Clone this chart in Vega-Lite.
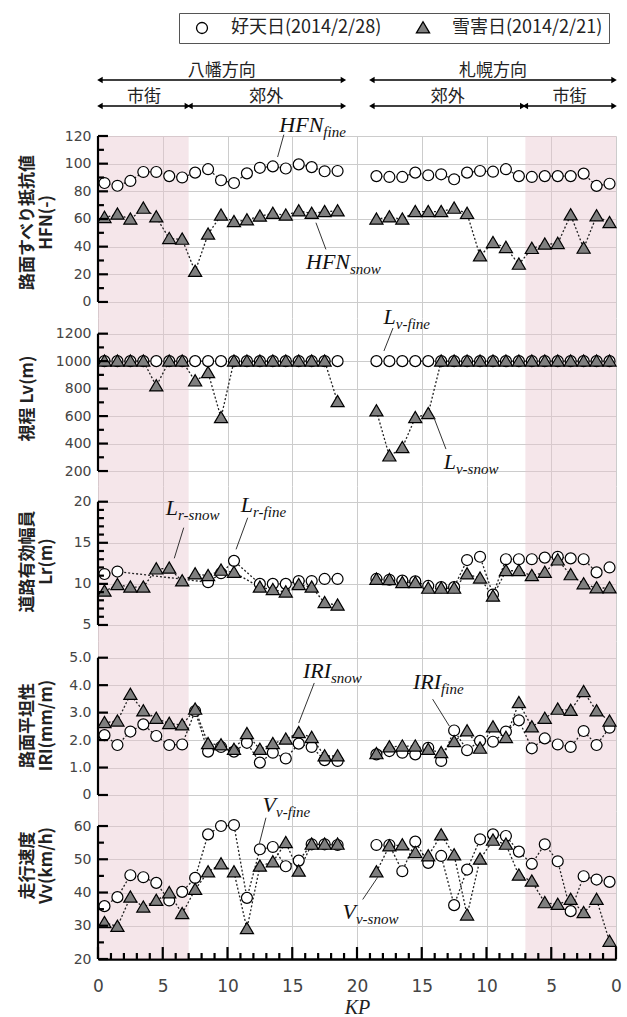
{
"$schema": "https://vega.github.io/schema/vega-lite/v6.json",
"padding": {"left": 18, "top": 12, "right": 4, "bottom": 4},
"spacing": 0,
"bounds": "flush",
"config": {
  "view": {"stroke": null},
  "axis": {"gridColor": "#cccccc", "gridWidth": 1, "labelFont": "DejaVu Sans", "labelFontSize": 14, "labelColor": "#444444", "titleFont": "Noto Sans CJK JP", "titleFontSize": 17, "titleFontWeight": "bold", "titleColor": "#222222", "titleLineHeight": 19, "labelOverlap": false, "labelFlush": false, "ticks": false}
},
"datasets": {
  "band": [{"p": 0, "p2": 7}, {"p": 33, "p2": 40}],
  "ha": [{"p":0.15,"p2":18.95,"y":29},{"p":21.15,"p2":39.85,"y":29},{"p":0.15,"p2":6.9,"y":55},{"p":7.1,"p2":18.95,"y":55},{"p":21.15,"p2":32.8,"y":55},{"p":33.0,"p2":39.85,"y":55}],
  "hd": [{"t":"八幡方向","p":9.55,"y":20},{"t":"札幌方向","p":30.5,"y":20},{"t":"市街","p":3.55,"y":46},{"t":"郊外","p":13.0,"y":46},{"t":"郊外","p":27.0,"y":46},{"t":"市街","p":36.4,"y":46}],
  "spine": [
    {"m":"H","k":"s","p":0,"p2":0,"v":0,"v2":120},{"m":"LV","k":"s","p":0,"p2":0,"v":200,"v2":1200},{"m":"LR","k":"s","p":0,"p2":0,"v":5,"v2":20},{"m":"IRI","k":"s","p":0,"p2":0,"v":0,"v2":5},{"m":"VV","k":"s","p":0,"p2":0,"v":20,"v2":60},
    {"m":"H","k":"t","p":0,"p2":0.77,"v":0,"v2":0},{"m":"H","k":"t","p":0,"p2":0.46,"v":10,"v2":10},{"m":"H","k":"t","p":0,"p2":0.77,"v":20,"v2":20},{"m":"H","k":"t","p":0,"p2":0.46,"v":30,"v2":30},{"m":"H","k":"t","p":0,"p2":0.77,"v":40,"v2":40},{"m":"H","k":"t","p":0,"p2":0.46,"v":50,"v2":50},{"m":"H","k":"t","p":0,"p2":0.77,"v":60,"v2":60},{"m":"H","k":"t","p":0,"p2":0.46,"v":70,"v2":70},{"m":"H","k":"t","p":0,"p2":0.77,"v":80,"v2":80},{"m":"H","k":"t","p":0,"p2":0.46,"v":90,"v2":90},{"m":"H","k":"t","p":0,"p2":0.77,"v":100,"v2":100},{"m":"H","k":"t","p":0,"p2":0.46,"v":110,"v2":110},{"m":"H","k":"t","p":0,"p2":0.77,"v":120,"v2":120},
    {"m":"LV","k":"t","p":0,"p2":0.77,"v":200,"v2":200},{"m":"LV","k":"t","p":0,"p2":0.46,"v":300,"v2":300},{"m":"LV","k":"t","p":0,"p2":0.77,"v":400,"v2":400},{"m":"LV","k":"t","p":0,"p2":0.46,"v":500,"v2":500},{"m":"LV","k":"t","p":0,"p2":0.77,"v":600,"v2":600},{"m":"LV","k":"t","p":0,"p2":0.46,"v":700,"v2":700},{"m":"LV","k":"t","p":0,"p2":0.77,"v":800,"v2":800},{"m":"LV","k":"t","p":0,"p2":0.46,"v":900,"v2":900},{"m":"LV","k":"t","p":0,"p2":0.77,"v":1000,"v2":1000},{"m":"LV","k":"t","p":0,"p2":0.46,"v":1100,"v2":1100},{"m":"LV","k":"t","p":0,"p2":0.77,"v":1200,"v2":1200},
    {"m":"LR","k":"t","p":0,"p2":0.77,"v":5,"v2":5},{"m":"LR","k":"t","p":0,"p2":0.46,"v":6,"v2":6},{"m":"LR","k":"t","p":0,"p2":0.46,"v":7,"v2":7},{"m":"LR","k":"t","p":0,"p2":0.46,"v":8,"v2":8},{"m":"LR","k":"t","p":0,"p2":0.46,"v":9,"v2":9},{"m":"LR","k":"t","p":0,"p2":0.77,"v":10,"v2":10},{"m":"LR","k":"t","p":0,"p2":0.46,"v":11,"v2":11},{"m":"LR","k":"t","p":0,"p2":0.46,"v":12,"v2":12},{"m":"LR","k":"t","p":0,"p2":0.46,"v":13,"v2":13},{"m":"LR","k":"t","p":0,"p2":0.46,"v":14,"v2":14},{"m":"LR","k":"t","p":0,"p2":0.77,"v":15,"v2":15},{"m":"LR","k":"t","p":0,"p2":0.46,"v":16,"v2":16},{"m":"LR","k":"t","p":0,"p2":0.46,"v":17,"v2":17},{"m":"LR","k":"t","p":0,"p2":0.46,"v":18,"v2":18},{"m":"LR","k":"t","p":0,"p2":0.46,"v":19,"v2":19},{"m":"LR","k":"t","p":0,"p2":0.77,"v":20,"v2":20},
    {"m":"IRI","k":"t","p":0,"p2":0.77,"v":0,"v2":0},{"m":"IRI","k":"t","p":0,"p2":0.77,"v":1,"v2":1},{"m":"IRI","k":"t","p":0,"p2":0.77,"v":2,"v2":2},{"m":"IRI","k":"t","p":0,"p2":0.77,"v":3,"v2":3},{"m":"IRI","k":"t","p":0,"p2":0.77,"v":4,"v2":4},{"m":"IRI","k":"t","p":0,"p2":0.77,"v":5,"v2":5},
    {"m":"VV","k":"t","p":0,"p2":0.77,"v":20,"v2":20},{"m":"VV","k":"t","p":0,"p2":0.46,"v":25,"v2":25},{"m":"VV","k":"t","p":0,"p2":0.77,"v":30,"v2":30},{"m":"VV","k":"t","p":0,"p2":0.46,"v":35,"v2":35},{"m":"VV","k":"t","p":0,"p2":0.77,"v":40,"v2":40},{"m":"VV","k":"t","p":0,"p2":0.46,"v":45,"v2":45},{"m":"VV","k":"t","p":0,"p2":0.77,"v":50,"v2":50},{"m":"VV","k":"t","p":0,"p2":0.46,"v":55,"v2":55},{"m":"VV","k":"t","p":0,"p2":0.77,"v":60,"v2":60},
    {"m":"VV","k":"x","p":0,"p2":0,"v":20,"v2":23.6},{"m":"VV","k":"x","p":1,"p2":1,"v":20,"v2":21.8},{"m":"VV","k":"x","p":2,"p2":2,"v":20,"v2":21.8},{"m":"VV","k":"x","p":3,"p2":3,"v":20,"v2":21.8},{"m":"VV","k":"x","p":4,"p2":4,"v":20,"v2":21.8},{"m":"VV","k":"x","p":5,"p2":5,"v":20,"v2":23.6},{"m":"VV","k":"x","p":6,"p2":6,"v":20,"v2":21.8},{"m":"VV","k":"x","p":7,"p2":7,"v":20,"v2":21.8},{"m":"VV","k":"x","p":8,"p2":8,"v":20,"v2":21.8},{"m":"VV","k":"x","p":9,"p2":9,"v":20,"v2":21.8},{"m":"VV","k":"x","p":10,"p2":10,"v":20,"v2":23.6},{"m":"VV","k":"x","p":11,"p2":11,"v":20,"v2":21.8},{"m":"VV","k":"x","p":12,"p2":12,"v":20,"v2":21.8},{"m":"VV","k":"x","p":13,"p2":13,"v":20,"v2":21.8},{"m":"VV","k":"x","p":14,"p2":14,"v":20,"v2":21.8},{"m":"VV","k":"x","p":15,"p2":15,"v":20,"v2":23.6},{"m":"VV","k":"x","p":16,"p2":16,"v":20,"v2":21.8},{"m":"VV","k":"x","p":17,"p2":17,"v":20,"v2":21.8},{"m":"VV","k":"x","p":18,"p2":18,"v":20,"v2":21.8},{"m":"VV","k":"x","p":19,"p2":19,"v":20,"v2":21.8},{"m":"VV","k":"x","p":20,"p2":20,"v":20,"v2":23.6},{"m":"VV","k":"x","p":21,"p2":21,"v":20,"v2":21.8},{"m":"VV","k":"x","p":22,"p2":22,"v":20,"v2":21.8},{"m":"VV","k":"x","p":23,"p2":23,"v":20,"v2":21.8},{"m":"VV","k":"x","p":24,"p2":24,"v":20,"v2":21.8},{"m":"VV","k":"x","p":25,"p2":25,"v":20,"v2":23.6},{"m":"VV","k":"x","p":26,"p2":26,"v":20,"v2":21.8},{"m":"VV","k":"x","p":27,"p2":27,"v":20,"v2":21.8},{"m":"VV","k":"x","p":28,"p2":28,"v":20,"v2":21.8},{"m":"VV","k":"x","p":29,"p2":29,"v":20,"v2":21.8},{"m":"VV","k":"x","p":30,"p2":30,"v":20,"v2":23.6},{"m":"VV","k":"x","p":31,"p2":31,"v":20,"v2":21.8},{"m":"VV","k":"x","p":32,"p2":32,"v":20,"v2":21.8},{"m":"VV","k":"x","p":33,"p2":33,"v":20,"v2":21.8},{"m":"VV","k":"x","p":34,"p2":34,"v":20,"v2":21.8},{"m":"VV","k":"x","p":35,"p2":35,"v":20,"v2":23.6},{"m":"VV","k":"x","p":36,"p2":36,"v":20,"v2":21.8},{"m":"VV","k":"x","p":37,"p2":37,"v":20,"v2":21.8},{"m":"VV","k":"x","p":38,"p2":38,"v":20,"v2":21.8},{"m":"VV","k":"x","p":39,"p2":39,"v":20,"v2":21.8},{"m":"VV","k":"x","p":40,"p2":40,"v":20,"v2":23.6}
  ],
  "ann": [
    {"m":"H","t":"HFN","u":"fine","p":17.4,"v":122.9},
    {"m":"H","t":"HFN","u":"snow","p":19.46,"v":24},
    {"m":"LV","t":"L","u":"v-fine","p":23.0,"v":1271},
    {"m":"LV","t":"L","u":"v-snow","p":27.64,"v":215},
    {"m":"LR","t":"L","u":"r-snow","p":6.18,"v":18.4},
    {"m":"LR","t":"L","u":"r-fine","p":11.97,"v":18.7},
    {"m":"IRI","t":"IRI","u":"snow","p":17.99,"v":4.25},
    {"m":"IRI","t":"IRI","u":"fine","p":26.49,"v":3.85},
    {"m":"VV","t":"V","u":"v-fine","p":13.75,"v":64.3},
    {"m":"VV","t":"V","u":"v-snow","p":19.92,"v":32}
  ],
  "arr": [
    {"m":"H","p":14.35,"v":121,"p2":13.87,"v2":104.8},
    {"m":"H","p":17.6,"v":38,"p2":16.83,"v2":57.3},
    {"m":"LV","p":22.78,"v":1241,"p2":22.08,"v2":1074},
    {"m":"LV","p":26.87,"v":360,"p2":25.95,"v2":586},
    {"m":"LR","p":6.62,"v":16.84,"p2":5.89,"v2":13.11},
    {"m":"LR","p":11.56,"v":18.05,"p2":10.66,"v2":14.2},
    {"m":"IRI","p":16.7,"v":4.08,"p2":15.5,"v2":2.62},
    {"m":"IRI","p":25.84,"v":3.49,"p2":27.13,"v2":2.51},
    {"m":"VV","p":12.97,"v":62.5,"p2":12.46,"v2":54.7},
    {"m":"VV","p":20.44,"v":37.9,"p2":21.6,"v2":44.6}
  ],
  "H": [
    {"c":"f","s":"L","p":0.5,"v":86},{"c":"f","s":"L","p":1.5,"v":84},{"c":"f","s":"L","p":2.5,"v":87.5},{"c":"f","s":"L","p":3.5,"v":94},{"c":"f","s":"L","p":4.5,"v":94},{"c":"f","s":"L","p":5.5,"v":91},{"c":"f","s":"L","p":6.5,"v":90},{"c":"f","s":"L","p":7.5,"v":93.5},{"c":"f","s":"L","p":8.5,"v":96},{"c":"f","s":"L","p":9.5,"v":88},{"c":"f","s":"L","p":10.5,"v":86},{"c":"f","s":"L","p":11.5,"v":93},{"c":"f","s":"L","p":12.5,"v":97},{"c":"f","s":"L","p":13.5,"v":98},{"c":"f","s":"L","p":14.5,"v":96.5},{"c":"f","s":"L","p":15.5,"v":99.5},{"c":"f","s":"L","p":16.5,"v":97.5},{"c":"f","s":"L","p":17.5,"v":94.5},{"c":"f","s":"L","p":18.5,"v":94.7},
    {"c":"f","s":"R","p":21.5,"v":91},{"c":"f","s":"R","p":22.5,"v":90.4},{"c":"f","s":"R","p":23.5,"v":90.4},{"c":"f","s":"R","p":24.5,"v":93.5},{"c":"f","s":"R","p":25.5,"v":91.6},{"c":"f","s":"R","p":26.5,"v":92.3},{"c":"f","s":"R","p":27.5,"v":88.7},{"c":"f","s":"R","p":28.5,"v":93.5},{"c":"f","s":"R","p":29.5,"v":94.7},{"c":"f","s":"R","p":30.5,"v":94.2},{"c":"f","s":"R","p":31.5,"v":96},{"c":"f","s":"R","p":32.5,"v":91},{"c":"f","s":"R","p":33.5,"v":90.4},{"c":"f","s":"R","p":34.5,"v":91},{"c":"f","s":"R","p":35.5,"v":91},{"c":"f","s":"R","p":36.5,"v":91},{"c":"f","s":"R","p":37.5,"v":92.8},{"c":"f","s":"R","p":38.5,"v":83.9},{"c":"f","s":"R","p":39.5,"v":85.5},
    {"c":"s","s":"L","p":0.5,"v":61},{"c":"s","s":"L","p":1.5,"v":63.4},{"c":"s","s":"L","p":2.5,"v":59.8},{"c":"s","s":"L","p":3.5,"v":67.7},{"c":"s","s":"L","p":4.5,"v":61.4},{"c":"s","s":"L","p":5.5,"v":45.8},{"c":"s","s":"L","p":6.5,"v":45.3},{"c":"s","s":"L","p":7.5,"v":22},{"c":"s","s":"L","p":8.5,"v":49},{"c":"s","s":"L","p":9.5,"v":62.7},{"c":"s","s":"L","p":10.5,"v":58},{"c":"s","s":"L","p":11.5,"v":59.3},{"c":"s","s":"L","p":12.5,"v":62},{"c":"s","s":"L","p":13.5,"v":64},{"c":"s","s":"L","p":14.5,"v":62.7},{"c":"s","s":"L","p":15.5,"v":65.8},{"c":"s","s":"L","p":16.5,"v":64},{"c":"s","s":"L","p":17.5,"v":65.3},{"c":"s","s":"L","p":18.5,"v":65.8},
    {"c":"s","s":"R","p":21.5,"v":59.8},{"c":"s","s":"R","p":22.5,"v":61.4},{"c":"s","s":"R","p":23.5,"v":59.8},{"c":"s","s":"R","p":24.5,"v":65.3},{"c":"s","s":"R","p":25.5,"v":65.3},{"c":"s","s":"R","p":26.5,"v":65.3},{"c":"s","s":"R","p":27.5,"v":67.7},{"c":"s","s":"R","p":28.5,"v":63.9},{"c":"s","s":"R","p":29.5,"v":33.3},{"c":"s","s":"R","p":30.5,"v":42.9},{"c":"s","s":"R","p":31.5,"v":39.3},{"c":"s","s":"R","p":32.5,"v":27.2},{"c":"s","s":"R","p":33.5,"v":38.6},{"c":"s","s":"R","p":34.5,"v":41.7},{"c":"s","s":"R","p":35.5,"v":42.2},{"c":"s","s":"R","p":36.5,"v":62.9},{"c":"s","s":"R","p":37.5,"v":38.8},{"c":"s","s":"R","p":38.5,"v":62.2},{"c":"s","s":"R","p":39.5,"v":57.3}
  ],
  "LV": [
    {"c":"f","s":"L","p":0.5,"v":1000},{"c":"f","s":"L","p":1.5,"v":1000},{"c":"f","s":"L","p":2.5,"v":1000},{"c":"f","s":"L","p":3.5,"v":1000},{"c":"f","s":"L","p":4.5,"v":1000},{"c":"f","s":"L","p":5.5,"v":1000},{"c":"f","s":"L","p":6.5,"v":1000},{"c":"f","s":"L","p":7.5,"v":1000},{"c":"f","s":"L","p":8.5,"v":1000},{"c":"f","s":"L","p":9.5,"v":1000},{"c":"f","s":"L","p":10.5,"v":1000},{"c":"f","s":"L","p":11.5,"v":1000},{"c":"f","s":"L","p":12.5,"v":1000},{"c":"f","s":"L","p":13.5,"v":1000},{"c":"f","s":"L","p":14.5,"v":1000},{"c":"f","s":"L","p":15.5,"v":1000},{"c":"f","s":"L","p":16.5,"v":1000},{"c":"f","s":"L","p":17.5,"v":1000},{"c":"f","s":"L","p":18.5,"v":1000},
    {"c":"f","s":"R","p":21.5,"v":1000},{"c":"f","s":"R","p":22.5,"v":1000},{"c":"f","s":"R","p":23.5,"v":1000},{"c":"f","s":"R","p":24.5,"v":1000},{"c":"f","s":"R","p":25.5,"v":1000},{"c":"f","s":"R","p":26.5,"v":1000},{"c":"f","s":"R","p":27.5,"v":1000},{"c":"f","s":"R","p":28.5,"v":1000},{"c":"f","s":"R","p":29.5,"v":1000},{"c":"f","s":"R","p":30.5,"v":1000},{"c":"f","s":"R","p":31.5,"v":1000},{"c":"f","s":"R","p":32.5,"v":1000},{"c":"f","s":"R","p":33.5,"v":1000},{"c":"f","s":"R","p":34.5,"v":1000},{"c":"f","s":"R","p":35.5,"v":1000},{"c":"f","s":"R","p":36.5,"v":1000},{"c":"f","s":"R","p":37.5,"v":1000},{"c":"f","s":"R","p":38.5,"v":1000},{"c":"f","s":"R","p":39.5,"v":1000},
    {"c":"s","s":"L","p":0.5,"v":1000},{"c":"s","s":"L","p":1.5,"v":1000},{"c":"s","s":"L","p":2.5,"v":1000},{"c":"s","s":"L","p":3.5,"v":1000},{"c":"s","s":"L","p":4.5,"v":819},{"c":"s","s":"L","p":5.5,"v":1000},{"c":"s","s":"L","p":6.5,"v":1000},{"c":"s","s":"L","p":7.5,"v":855},{"c":"s","s":"L","p":8.5,"v":916},{"c":"s","s":"L","p":9.5,"v":588},{"c":"s","s":"L","p":10.5,"v":1000},{"c":"s","s":"L","p":11.5,"v":1000},{"c":"s","s":"L","p":12.5,"v":1000},{"c":"s","s":"L","p":13.5,"v":1000},{"c":"s","s":"L","p":14.5,"v":1000},{"c":"s","s":"L","p":15.5,"v":1000},{"c":"s","s":"L","p":16.5,"v":1000},{"c":"s","s":"L","p":17.5,"v":1000},{"c":"s","s":"L","p":18.5,"v":704},
    {"c":"s","s":"R","p":21.5,"v":637},{"c":"s","s":"R","p":22.5,"v":309},{"c":"s","s":"R","p":23.5,"v":370},{"c":"s","s":"R","p":24.5,"v":588},{"c":"s","s":"R","p":25.5,"v":617},{"c":"s","s":"R","p":26.5,"v":1000},{"c":"s","s":"R","p":27.5,"v":1000},{"c":"s","s":"R","p":28.5,"v":1000},{"c":"s","s":"R","p":29.5,"v":1000},{"c":"s","s":"R","p":30.5,"v":1000},{"c":"s","s":"R","p":31.5,"v":1000},{"c":"s","s":"R","p":32.5,"v":1000},{"c":"s","s":"R","p":33.5,"v":1000},{"c":"s","s":"R","p":34.5,"v":1000},{"c":"s","s":"R","p":35.5,"v":1000},{"c":"s","s":"R","p":36.5,"v":1000},{"c":"s","s":"R","p":37.5,"v":1000},{"c":"s","s":"R","p":38.5,"v":1000},{"c":"s","s":"R","p":39.5,"v":1000}
  ],
  "LR": [
    {"c":"f","s":"L","p":0.5,"v":11.2},{"c":"f","s":"L","p":1.5,"v":11.5},{"c":"f","s":"L","p":8.5,"v":10.2},{"c":"f","s":"L","p":9.5,"v":11.3},{"c":"f","s":"L","p":10.5,"v":12.8},{"c":"f","s":"L","p":12.5,"v":10.0},{"c":"f","s":"L","p":13.5,"v":10.0},{"c":"f","s":"L","p":14.5,"v":10.0},{"c":"f","s":"L","p":15.5,"v":10.35},{"c":"f","s":"L","p":16.5,"v":10.35},{"c":"f","s":"L","p":17.5,"v":10.6},{"c":"f","s":"L","p":18.5,"v":10.6},
    {"c":"f","s":"R","p":21.5,"v":10.6},{"c":"f","s":"R","p":22.5,"v":10.5},{"c":"f","s":"R","p":23.5,"v":10.4},{"c":"f","s":"R","p":24.5,"v":10.3},{"c":"f","s":"R","p":25.5,"v":9.75},{"c":"f","s":"R","p":26.5,"v":9.6},{"c":"f","s":"R","p":27.5,"v":9.6},{"c":"f","s":"R","p":28.5,"v":12.9},{"c":"f","s":"R","p":29.5,"v":13.3},{"c":"f","s":"R","p":30.5,"v":8.7},{"c":"f","s":"R","p":31.5,"v":13.0},{"c":"f","s":"R","p":32.5,"v":13.0},{"c":"f","s":"R","p":33.5,"v":13.0},{"c":"f","s":"R","p":34.5,"v":13.2},{"c":"f","s":"R","p":35.5,"v":13.3},{"c":"f","s":"R","p":36.5,"v":13.1},{"c":"f","s":"R","p":37.5,"v":13.0},{"c":"f","s":"R","p":38.5,"v":11.4},{"c":"f","s":"R","p":39.5,"v":12.0},
    {"c":"s","s":"L","p":0.5,"v":9.1},{"c":"s","s":"L","p":1.5,"v":9.9},{"c":"s","s":"L","p":2.5,"v":9.6},{"c":"s","s":"L","p":3.5,"v":9.6},{"c":"s","s":"L","p":4.5,"v":11.8},{"c":"s","s":"L","p":5.5,"v":11.9},{"c":"s","s":"L","p":6.5,"v":10.35},{"c":"s","s":"L","p":7.5,"v":11.2},{"c":"s","s":"L","p":8.5,"v":11.0},{"c":"s","s":"L","p":9.5,"v":11.65},{"c":"s","s":"L","p":10.5,"v":11.4},{"c":"s","s":"L","p":12.5,"v":9.6},{"c":"s","s":"L","p":13.5,"v":9.3},{"c":"s","s":"L","p":14.5,"v":9.0},{"c":"s","s":"L","p":15.5,"v":9.9},{"c":"s","s":"L","p":16.5,"v":9.6},{"c":"s","s":"L","p":17.5,"v":7.7},{"c":"s","s":"L","p":18.5,"v":7.4},
    {"c":"s","s":"R","p":21.5,"v":10.55},{"c":"s","s":"R","p":22.5,"v":10.5},{"c":"s","s":"R","p":23.5,"v":10.15},{"c":"s","s":"R","p":24.5,"v":10.15},{"c":"s","s":"R","p":25.5,"v":9.46},{"c":"s","s":"R","p":26.5,"v":9.46},{"c":"s","s":"R","p":27.5,"v":9.46},{"c":"s","s":"R","p":28.5,"v":11.2},{"c":"s","s":"R","p":29.5,"v":10.7},{"c":"s","s":"R","p":30.5,"v":8.5},{"c":"s","s":"R","p":31.5,"v":11.6},{"c":"s","s":"R","p":32.5,"v":11.6},{"c":"s","s":"R","p":33.5,"v":11.0},{"c":"s","s":"R","p":34.5,"v":11.4},{"c":"s","s":"R","p":35.5,"v":12.9},{"c":"s","s":"R","p":36.5,"v":11.1},{"c":"s","s":"R","p":37.5,"v":10.0},{"c":"s","s":"R","p":38.5,"v":9.5},{"c":"s","s":"R","p":39.5,"v":9.5}
  ],
  "IRI": [
    {"c":"f","s":"L","p":0.5,"v":2.18},{"c":"f","s":"L","p":1.5,"v":1.82},{"c":"f","s":"L","p":2.5,"v":2.31},{"c":"f","s":"L","p":3.5,"v":2.57},{"c":"f","s":"L","p":4.5,"v":2.15},{"c":"f","s":"L","p":5.5,"v":1.82},{"c":"f","s":"L","p":6.5,"v":1.84},{"c":"f","s":"L","p":7.5,"v":3.06},{"c":"f","s":"L","p":8.5,"v":1.58},{"c":"f","s":"L","p":9.5,"v":1.75},{"c":"f","s":"L","p":10.5,"v":1.58},{"c":"f","s":"L","p":11.5,"v":1.9},{"c":"f","s":"L","p":12.5,"v":1.18},{"c":"f","s":"L","p":13.5,"v":1.54},{"c":"f","s":"L","p":14.5,"v":1.33},{"c":"f","s":"L","p":15.5,"v":1.87},{"c":"f","s":"L","p":16.5,"v":1.75},{"c":"f","s":"L","p":17.5,"v":1.27},{"c":"f","s":"L","p":18.5,"v":1.24},
    {"c":"f","s":"R","p":21.5,"v":1.48},{"c":"f","s":"R","p":22.5,"v":1.6},{"c":"f","s":"R","p":23.5,"v":1.54},{"c":"f","s":"R","p":24.5,"v":1.48},{"c":"f","s":"R","p":25.5,"v":1.72},{"c":"f","s":"R","p":26.5,"v":1.24},{"c":"f","s":"R","p":27.5,"v":2.35},{"c":"f","s":"R","p":28.5,"v":1.63},{"c":"f","s":"R","p":29.5,"v":1.97},{"c":"f","s":"R","p":30.5,"v":1.94},{"c":"f","s":"R","p":31.5,"v":2.31},{"c":"f","s":"R","p":32.5,"v":2.72},{"c":"f","s":"R","p":33.5,"v":1.7},{"c":"f","s":"R","p":34.5,"v":2.06},{"c":"f","s":"R","p":35.5,"v":1.84},{"c":"f","s":"R","p":36.5,"v":1.75},{"c":"f","s":"R","p":37.5,"v":2.33},{"c":"f","s":"R","p":38.5,"v":1.82},{"c":"f","s":"R","p":39.5,"v":2.45},
    {"c":"s","s":"L","p":0.5,"v":2.63},{"c":"s","s":"L","p":1.5,"v":2.69},{"c":"s","s":"L","p":2.5,"v":3.66},{"c":"s","s":"L","p":3.5,"v":3.06},{"c":"s","s":"L","p":4.5,"v":2.79},{"c":"s","s":"L","p":5.5,"v":2.6},{"c":"s","s":"L","p":6.5,"v":2.55},{"c":"s","s":"L","p":7.5,"v":3.12},{"c":"s","s":"L","p":8.5,"v":1.87},{"c":"s","s":"L","p":9.5,"v":1.82},{"c":"s","s":"L","p":10.5,"v":1.66},{"c":"s","s":"L","p":11.5,"v":2.23},{"c":"s","s":"L","p":12.5,"v":1.66},{"c":"s","s":"L","p":13.5,"v":1.87},{"c":"s","s":"L","p":14.5,"v":2.03},{"c":"s","s":"L","p":15.5,"v":2.27},{"c":"s","s":"L","p":16.5,"v":2.09},{"c":"s","s":"L","p":17.5,"v":1.42},{"c":"s","s":"L","p":18.5,"v":1.42},
    {"c":"s","s":"R","p":21.5,"v":1.5},{"c":"s","s":"R","p":22.5,"v":1.75},{"c":"s","s":"R","p":23.5,"v":1.78},{"c":"s","s":"R","p":24.5,"v":1.78},{"c":"s","s":"R","p":25.5,"v":1.66},{"c":"s","s":"R","p":26.5,"v":1.54},{"c":"s","s":"R","p":27.5,"v":1.94},{"c":"s","s":"R","p":28.5,"v":2.33},{"c":"s","s":"R","p":29.5,"v":1.7},{"c":"s","s":"R","p":30.5,"v":2.48},{"c":"s","s":"R","p":31.5,"v":2.09},{"c":"s","s":"R","p":32.5,"v":3.36},{"c":"s","s":"R","p":33.5,"v":2.48},{"c":"s","s":"R","p":34.5,"v":2.79},{"c":"s","s":"R","p":35.5,"v":3.12},{"c":"s","s":"R","p":36.5,"v":3.08},{"c":"s","s":"R","p":37.5,"v":3.76},{"c":"s","s":"R","p":38.5,"v":3.06},{"c":"s","s":"R","p":39.5,"v":2.69}
  ],
  "VV": [
    {"c":"f","s":"L","p":0.5,"v":35.9},{"c":"f","s":"L","p":1.5,"v":38.6},{"c":"f","s":"L","p":2.5,"v":45.2},{"c":"f","s":"L","p":3.5,"v":44.6},{"c":"f","s":"L","p":4.5,"v":42.9},{"c":"f","s":"L","p":5.5,"v":37.6},{"c":"f","s":"L","p":6.5,"v":40.2},{"c":"f","s":"L","p":7.5,"v":44.4},{"c":"f","s":"L","p":8.5,"v":57.5},{"c":"f","s":"L","p":9.5,"v":60},{"c":"f","s":"L","p":10.5,"v":60.3},{"c":"f","s":"L","p":11.5,"v":38.4},{"c":"f","s":"L","p":12.5,"v":53},{"c":"f","s":"L","p":13.5,"v":53.7},{"c":"f","s":"L","p":14.5,"v":47.9},{"c":"f","s":"L","p":15.5,"v":49.6},{"c":"f","s":"L","p":16.5,"v":54.5},{"c":"f","s":"L","p":17.5,"v":54.5},{"c":"f","s":"L","p":18.5,"v":54.3},
    {"c":"f","s":"R","p":21.5,"v":54.3},{"c":"f","s":"R","p":22.5,"v":54.3},{"c":"f","s":"R","p":23.5,"v":46.4},{"c":"f","s":"R","p":24.5,"v":55.3},{"c":"f","s":"R","p":25.5,"v":48.9},{"c":"f","s":"R","p":26.5,"v":51},{"c":"f","s":"R","p":27.5,"v":36.2},{"c":"f","s":"R","p":28.5,"v":46.9},{"c":"f","s":"R","p":29.5,"v":56},{"c":"f","s":"R","p":30.5,"v":57.5},{"c":"f","s":"R","p":31.5,"v":57},{"c":"f","s":"R","p":32.5,"v":52.3},{"c":"f","s":"R","p":33.5,"v":48.6},{"c":"f","s":"R","p":34.5,"v":54.5},{"c":"f","s":"R","p":35.5,"v":49.4},{"c":"f","s":"R","p":36.5,"v":34.4},{"c":"f","s":"R","p":37.5,"v":44.9},{"c":"f","s":"R","p":38.5,"v":43.9},{"c":"f","s":"R","p":39.5,"v":43.2},
    {"c":"s","s":"L","p":0.5,"v":30.9},{"c":"s","s":"L","p":1.5,"v":29.8},{"c":"s","s":"L","p":2.5,"v":38.6},{"c":"s","s":"L","p":3.5,"v":35.6},{"c":"s","s":"L","p":4.5,"v":37.6},{"c":"s","s":"L","p":5.5,"v":39.9},{"c":"s","s":"L","p":6.5,"v":33.6},{"c":"s","s":"L","p":7.5,"v":40.9},{"c":"s","s":"L","p":8.5,"v":46.2},{"c":"s","s":"L","p":9.5,"v":48.6},{"c":"s","s":"L","p":10.5,"v":46.2},{"c":"s","s":"L","p":11.5,"v":29.1},{"c":"s","s":"L","p":12.5,"v":47.9},{"c":"s","s":"L","p":13.5,"v":49.2},{"c":"s","s":"L","p":14.5,"v":55},{"c":"s","s":"L","p":15.5,"v":46.4},{"c":"s","s":"L","p":16.5,"v":54.5},{"c":"s","s":"L","p":17.5,"v":54.5},{"c":"s","s":"L","p":18.5,"v":54.5},
    {"c":"s","s":"R","p":21.5,"v":46.2},{"c":"s","s":"R","p":22.5,"v":54},{"c":"s","s":"R","p":23.5,"v":54.3},{"c":"s","s":"R","p":24.5,"v":52},{"c":"s","s":"R","p":25.5,"v":51},{"c":"s","s":"R","p":26.5,"v":57.3},{"c":"s","s":"R","p":27.5,"v":51.3},{"c":"s","s":"R","p":28.5,"v":33.2},{"c":"s","s":"R","p":29.5,"v":50},{"c":"s","s":"R","p":30.5,"v":55.7},{"c":"s","s":"R","p":31.5,"v":54.5},{"c":"s","s":"R","p":32.5,"v":45.2},{"c":"s","s":"R","p":33.5,"v":43.4},{"c":"s","s":"R","p":34.5,"v":36.9},{"c":"s","s":"R","p":35.5,"v":36.4},{"c":"s","s":"R","p":36.5,"v":37.9},{"c":"s","s":"R","p":37.5,"v":33.9},{"c":"s","s":"R","p":38.5,"v":37.9},{"c":"s","s":"R","p":39.5,"v":25.3}
  ]
},
"vconcat": [
  {
    "width": 518, "height": 85,
    "encoding": {"x": {"field": "p", "type": "quantitative", "scale": {"domain": [0, 40], "nice": false, "zero": false}, "axis": null},
                 "y": {"field": "y", "type": "quantitative", "scale": {"domain": [0, 85], "reverse": true, "nice": false, "zero": false}, "axis": null}},
    "layer": [
      {"data": {"name": "ha"}, "mark": {"type": "rule", "color": "black", "strokeWidth": 1.5}, "encoding": {"x2": {"field": "p2"}}},
      {"data": {"name": "ha"}, "mark": {"type": "point", "shape": "triangle-left", "filled": true, "color": "black", "size": 40, "opacity": 1}},
      {"data": {"name": "ha"}, "mark": {"type": "point", "shape": "triangle-right", "filled": true, "color": "black", "size": 40, "opacity": 1}, "encoding": {"x": {"field": "p2", "type": "quantitative", "scale": {"domain": [0, 40], "nice": false, "zero": false}, "axis": null}}},
      {"data": {"name": "hd"}, "mark": {"type": "text", "font": "Noto Sans CJK JP", "fontSize": 17, "color": "#222222"}, "encoding": {"text": {"field": "t"}}}
    ]
  },
  {
    "width": 518, "height": 182,
    "encoding": {"x": {"field": "p", "type": "quantitative", "scale": {"domain": [0, 40], "nice": false, "zero": false}, "axis": {"values": [0,5,10,15,20,25,30,35,40], "grid": true, "domain": false, "labels": false, "title": null}}},
    "layer": [
      {"data": {"name": "band"}, "mark": {"type": "rect", "color": "#e8c4ce", "opacity": 0.43}, "encoding": {"x2": {"field": "p2"}}},
      {"encoding": {"y": {"field": "v", "type": "quantitative", "scale": {"domain": [-11.6, 120], "nice": false, "zero": false},
          "axis": {"values": [0,20,40,60,80,100,120], "grid": true, "domain": false, "labelPadding": 7, "title": ["路面すべり抵抗値", "HFN(-)"], "titleX": -79, "titleY": 86, "titleBaseline": "top", "titleAngle": 270}}},
       "layer": [
         {"data": {"name": "H"}, "mark": {"type": "line", "strokeDash": [2, 2], "color": "#222222", "strokeWidth": 1.3}, "encoding": {"detail": [{"field": "c"}, {"field": "s"}]}},
         {"data": {"name": "H"}, "mark": {"type": "point", "filled": true, "strokeWidth": 1.2, "size": 120, "opacity": 1},
          "encoding": {"shape": {"field": "c", "type": "nominal", "scale": {"domain": ["f", "s"], "range": ["circle", "M-1.2,0.9L1.2,0.9L0,-1.15Z"]}, "legend": {"title": null, "orient": "none", "legendX": 81, "legendY": -38, "direction": "horizontal", "labelExpr": "datum.value === 'f' ? '好天日(2014/2/28)' : '雪害日(2014/2/21)'", "strokeColor": "#555555", "padding": 6, "symbolOffset": 8, "labelFont": "Noto Sans CJK JP", "labelFontSize": 18, "labelColor": "#222222", "symbolSize": 120, "symbolStrokeWidth": 1.3, "columnPadding": 24, "labelOffset": 20}},
                       "fill": {"field": "c", "type": "nominal", "scale": {"domain": ["f", "s"], "range": ["#ffffff", "#7f7f7f"]}, "legend": {"title": null, "orient": "none", "legendX": 81, "legendY": -38, "direction": "horizontal", "labelExpr": "datum.value === 'f' ? '好天日(2014/2/28)' : '雪害日(2014/2/21)'", "strokeColor": "#555555", "padding": 6, "symbolOffset": 8, "labelFont": "Noto Sans CJK JP", "labelFontSize": 18, "labelColor": "#222222", "symbolSize": 120, "symbolStrokeWidth": 1.3, "columnPadding": 24, "labelOffset": 20}},
                       "stroke": {"field": "c", "type": "nominal", "scale": {"domain": ["f", "s"], "range": ["#000000", "#000001"]}, "legend": {"title": null, "orient": "none", "legendX": 81, "legendY": -38, "direction": "horizontal", "labelExpr": "datum.value === 'f' ? '好天日(2014/2/28)' : '雪害日(2014/2/21)'", "strokeColor": "#555555", "padding": 6, "symbolOffset": 8, "labelFont": "Noto Sans CJK JP", "labelFontSize": 18, "labelColor": "#222222", "symbolSize": 120, "symbolStrokeWidth": 1.3, "columnPadding": 24, "labelOffset": 20}}}},
         {"data": {"name": "spine"}, "transform": [{"filter": "datum.m === 'H'"}], "mark": {"type": "rule", "color": "black", "strokeWidth": 2.2}, "encoding": {"x2": {"field": "p2"}, "y2": {"field": "v2"}}},
         {"data": {"name": "arr"}, "transform": [{"filter": "datum.m === 'H'"}], "mark": {"type": "rule", "color": "#333333", "strokeWidth": 1}, "encoding": {"x2": {"field": "p2"}, "y2": {"field": "v2"}}},
         {"data": {"name": "ann"}, "transform": [{"filter": "datum.m === 'H'"}], "mark": {"type": "text", "font": "Liberation Serif", "fontStyle": "italic", "fontSize": 22, "align": "right", "baseline": "alphabetic", "color": "#111111"}, "encoding": {"text": {"field": "t"}}},
         {"data": {"name": "ann"}, "transform": [{"filter": "datum.m === 'H'"}], "mark": {"type": "text", "font": "Liberation Serif", "fontStyle": "italic", "fontSize": 15, "align": "left", "baseline": "alphabetic", "dy": 5, "color": "#111111"}, "encoding": {"text": {"field": "u"}}}
       ]}
    ]
  },
  {
    "width": 518, "height": 168,
    "encoding": {"x": {"field": "p", "type": "quantitative", "scale": {"domain": [0, 40], "nice": false, "zero": false}, "axis": {"values": [0,5,10,15,20,25,30,35,40], "grid": true, "domain": false, "labels": false, "title": null}}},
    "layer": [
      {"data": {"name": "band"}, "mark": {"type": "rect", "color": "#e8c4ce", "opacity": 0.43}, "encoding": {"x2": {"field": "p2"}}},
      {"encoding": {"y": {"field": "v", "type": "quantitative", "scale": {"domain": [91, 1314], "nice": false, "zero": false},
          "axis": {"values": [200,400,600,800,1000,1200], "grid": true, "domain": false, "labelPadding": 7, "format": "d", "title": "視程 Lv(m)", "titleX": -79, "titleY": 80, "titleBaseline": "top", "titleAngle": 270}}},
       "layer": [
         {"data": {"name": "LV"}, "mark": {"type": "line", "strokeDash": [2, 2], "color": "#222222", "strokeWidth": 1.3}, "encoding": {"detail": [{"field": "c"}, {"field": "s"}]}},
         {"data": {"name": "LV"}, "mark": {"type": "point", "filled": true, "strokeWidth": 1.2, "size": 120, "opacity": 1},
          "encoding": {"shape": {"field": "c", "type": "nominal", "scale": {"domain": ["f", "s"], "range": ["circle", "M-1.2,0.9L1.2,0.9L0,-1.15Z"]}, "legend": {"title": null, "orient": "none", "legendX": 81, "legendY": -38, "direction": "horizontal", "labelExpr": "datum.value === 'f' ? '好天日(2014/2/28)' : '雪害日(2014/2/21)'", "strokeColor": "#555555", "padding": 6, "symbolOffset": 8, "labelFont": "Noto Sans CJK JP", "labelFontSize": 18, "labelColor": "#222222", "symbolSize": 120, "symbolStrokeWidth": 1.3, "columnPadding": 24, "labelOffset": 20}},
                       "fill": {"field": "c", "type": "nominal", "scale": {"domain": ["f", "s"], "range": ["#ffffff", "#7f7f7f"]}, "legend": {"title": null, "orient": "none", "legendX": 81, "legendY": -38, "direction": "horizontal", "labelExpr": "datum.value === 'f' ? '好天日(2014/2/28)' : '雪害日(2014/2/21)'", "strokeColor": "#555555", "padding": 6, "symbolOffset": 8, "labelFont": "Noto Sans CJK JP", "labelFontSize": 18, "labelColor": "#222222", "symbolSize": 120, "symbolStrokeWidth": 1.3, "columnPadding": 24, "labelOffset": 20}},
                       "stroke": {"field": "c", "type": "nominal", "scale": {"domain": ["f", "s"], "range": ["#000000", "#000001"]}, "legend": {"title": null, "orient": "none", "legendX": 81, "legendY": -38, "direction": "horizontal", "labelExpr": "datum.value === 'f' ? '好天日(2014/2/28)' : '雪害日(2014/2/21)'", "strokeColor": "#555555", "padding": 6, "symbolOffset": 8, "labelFont": "Noto Sans CJK JP", "labelFontSize": 18, "labelColor": "#222222", "symbolSize": 120, "symbolStrokeWidth": 1.3, "columnPadding": 24, "labelOffset": 20}}}},
         {"data": {"name": "spine"}, "transform": [{"filter": "datum.m === 'LV'"}], "mark": {"type": "rule", "color": "black", "strokeWidth": 2.2}, "encoding": {"x2": {"field": "p2"}, "y2": {"field": "v2"}}},
         {"data": {"name": "arr"}, "transform": [{"filter": "datum.m === 'LV'"}], "mark": {"type": "rule", "color": "#333333", "strokeWidth": 1}, "encoding": {"x2": {"field": "p2"}, "y2": {"field": "v2"}}},
         {"data": {"name": "ann"}, "transform": [{"filter": "datum.m === 'LV'"}], "mark": {"type": "text", "font": "Liberation Serif", "fontStyle": "italic", "fontSize": 22, "align": "right", "baseline": "alphabetic", "color": "#111111"}, "encoding": {"text": {"field": "t"}}},
         {"data": {"name": "ann"}, "transform": [{"filter": "datum.m === 'LV'"}], "mark": {"type": "text", "font": "Liberation Serif", "fontStyle": "italic", "fontSize": 15, "align": "left", "baseline": "alphabetic", "dy": 5, "color": "#111111"}, "encoding": {"text": {"field": "u"}}}
       ]}
    ]
  },
  {
    "width": 518, "height": 155,
    "encoding": {"x": {"field": "p", "type": "quantitative", "scale": {"domain": [0, 40], "nice": false, "zero": false}, "axis": {"values": [0,5,10,15,20,25,30,35,40], "grid": true, "domain": false, "labels": false, "title": null}}},
    "layer": [
      {"data": {"name": "band"}, "mark": {"type": "rect", "color": "#e8c4ce", "opacity": 0.43}, "encoding": {"x2": {"field": "p2"}}},
      {"encoding": {"y": {"field": "v", "type": "quantitative", "scale": {"domain": [3.05, 21.91], "nice": false, "zero": false},
          "axis": {"values": [5,10,15,20], "grid": true, "domain": false, "labelPadding": 7, "title": ["道路有効幅員", "Lr(m)"], "titleX": -79, "titleY": 75, "titleBaseline": "top", "titleAngle": 270}}},
       "layer": [
         {"data": {"name": "LR"}, "mark": {"type": "line", "strokeDash": [2, 2], "color": "#222222", "strokeWidth": 1.3}, "encoding": {"detail": [{"field": "c"}, {"field": "s"}]}},
         {"data": {"name": "LR"}, "mark": {"type": "point", "filled": true, "strokeWidth": 1.2, "size": 120, "opacity": 1},
          "encoding": {"shape": {"field": "c", "type": "nominal", "scale": {"domain": ["f", "s"], "range": ["circle", "M-1.2,0.9L1.2,0.9L0,-1.15Z"]}, "legend": {"title": null, "orient": "none", "legendX": 81, "legendY": -38, "direction": "horizontal", "labelExpr": "datum.value === 'f' ? '好天日(2014/2/28)' : '雪害日(2014/2/21)'", "strokeColor": "#555555", "padding": 6, "symbolOffset": 8, "labelFont": "Noto Sans CJK JP", "labelFontSize": 18, "labelColor": "#222222", "symbolSize": 120, "symbolStrokeWidth": 1.3, "columnPadding": 24, "labelOffset": 20}},
                       "fill": {"field": "c", "type": "nominal", "scale": {"domain": ["f", "s"], "range": ["#ffffff", "#7f7f7f"]}, "legend": {"title": null, "orient": "none", "legendX": 81, "legendY": -38, "direction": "horizontal", "labelExpr": "datum.value === 'f' ? '好天日(2014/2/28)' : '雪害日(2014/2/21)'", "strokeColor": "#555555", "padding": 6, "symbolOffset": 8, "labelFont": "Noto Sans CJK JP", "labelFontSize": 18, "labelColor": "#222222", "symbolSize": 120, "symbolStrokeWidth": 1.3, "columnPadding": 24, "labelOffset": 20}},
                       "stroke": {"field": "c", "type": "nominal", "scale": {"domain": ["f", "s"], "range": ["#000000", "#000001"]}, "legend": {"title": null, "orient": "none", "legendX": 81, "legendY": -38, "direction": "horizontal", "labelExpr": "datum.value === 'f' ? '好天日(2014/2/28)' : '雪害日(2014/2/21)'", "strokeColor": "#555555", "padding": 6, "symbolOffset": 8, "labelFont": "Noto Sans CJK JP", "labelFontSize": 18, "labelColor": "#222222", "symbolSize": 120, "symbolStrokeWidth": 1.3, "columnPadding": 24, "labelOffset": 20}}}},
         {"data": {"name": "spine"}, "transform": [{"filter": "datum.m === 'LR'"}], "mark": {"type": "rule", "color": "black", "strokeWidth": 2.2}, "encoding": {"x2": {"field": "p2"}, "y2": {"field": "v2"}}},
         {"data": {"name": "arr"}, "transform": [{"filter": "datum.m === 'LR'"}], "mark": {"type": "rule", "color": "#333333", "strokeWidth": 1}, "encoding": {"x2": {"field": "p2"}, "y2": {"field": "v2"}}},
         {"data": {"name": "ann"}, "transform": [{"filter": "datum.m === 'LR'"}], "mark": {"type": "text", "font": "Liberation Serif", "fontStyle": "italic", "fontSize": 22, "align": "right", "baseline": "alphabetic", "color": "#111111"}, "encoding": {"text": {"field": "t"}}},
         {"data": {"name": "ann"}, "transform": [{"filter": "datum.m === 'LR'"}], "mark": {"type": "text", "font": "Liberation Serif", "fontStyle": "italic", "fontSize": 15, "align": "left", "baseline": "alphabetic", "dy": 5, "color": "#111111"}, "encoding": {"text": {"field": "u"}}}
       ]}
    ]
  },
  {
    "width": 518, "height": 170,
    "encoding": {"x": {"field": "p", "type": "quantitative", "scale": {"domain": [0, 40], "nice": false, "zero": false}, "axis": {"values": [0,5,10,15,20,25,30,35,40], "grid": true, "domain": false, "labels": false, "title": null}}},
    "layer": [
      {"data": {"name": "band"}, "mark": {"type": "rect", "color": "#e8c4ce", "opacity": 0.43}, "encoding": {"x2": {"field": "p2"}}},
      {"encoding": {"y": {"field": "v", "type": "quantitative", "scale": {"domain": [-0.583, 5.608], "nice": false, "zero": false},
          "axis": {"values": [0,1,2,3,4,5], "grid": true, "domain": false, "labelExpr": "datum.value === 0 ? '0' : format(datum.value, '.1f')", "labelPadding": 7, "title": ["路面平坦性", "IRI(mm/m)"], "titleX": -79, "titleY": 84, "titleBaseline": "top", "titleAngle": 270}}},
       "layer": [
         {"data": {"name": "IRI"}, "mark": {"type": "line", "strokeDash": [2, 2], "color": "#222222", "strokeWidth": 1.3}, "encoding": {"detail": [{"field": "c"}, {"field": "s"}]}},
         {"data": {"name": "IRI"}, "mark": {"type": "point", "filled": true, "strokeWidth": 1.2, "size": 120, "opacity": 1},
          "encoding": {"shape": {"field": "c", "type": "nominal", "scale": {"domain": ["f", "s"], "range": ["circle", "M-1.2,0.9L1.2,0.9L0,-1.15Z"]}, "legend": {"title": null, "orient": "none", "legendX": 81, "legendY": -38, "direction": "horizontal", "labelExpr": "datum.value === 'f' ? '好天日(2014/2/28)' : '雪害日(2014/2/21)'", "strokeColor": "#555555", "padding": 6, "symbolOffset": 8, "labelFont": "Noto Sans CJK JP", "labelFontSize": 18, "labelColor": "#222222", "symbolSize": 120, "symbolStrokeWidth": 1.3, "columnPadding": 24, "labelOffset": 20}},
                       "fill": {"field": "c", "type": "nominal", "scale": {"domain": ["f", "s"], "range": ["#ffffff", "#7f7f7f"]}, "legend": {"title": null, "orient": "none", "legendX": 81, "legendY": -38, "direction": "horizontal", "labelExpr": "datum.value === 'f' ? '好天日(2014/2/28)' : '雪害日(2014/2/21)'", "strokeColor": "#555555", "padding": 6, "symbolOffset": 8, "labelFont": "Noto Sans CJK JP", "labelFontSize": 18, "labelColor": "#222222", "symbolSize": 120, "symbolStrokeWidth": 1.3, "columnPadding": 24, "labelOffset": 20}},
                       "stroke": {"field": "c", "type": "nominal", "scale": {"domain": ["f", "s"], "range": ["#000000", "#000001"]}, "legend": {"title": null, "orient": "none", "legendX": 81, "legendY": -38, "direction": "horizontal", "labelExpr": "datum.value === 'f' ? '好天日(2014/2/28)' : '雪害日(2014/2/21)'", "strokeColor": "#555555", "padding": 6, "symbolOffset": 8, "labelFont": "Noto Sans CJK JP", "labelFontSize": 18, "labelColor": "#222222", "symbolSize": 120, "symbolStrokeWidth": 1.3, "columnPadding": 24, "labelOffset": 20}}}},
         {"data": {"name": "spine"}, "transform": [{"filter": "datum.m === 'IRI'"}], "mark": {"type": "rule", "color": "black", "strokeWidth": 2.2}, "encoding": {"x2": {"field": "p2"}, "y2": {"field": "v2"}}},
         {"data": {"name": "arr"}, "transform": [{"filter": "datum.m === 'IRI'"}], "mark": {"type": "rule", "color": "#333333", "strokeWidth": 1}, "encoding": {"x2": {"field": "p2"}, "y2": {"field": "v2"}}},
         {"data": {"name": "ann"}, "transform": [{"filter": "datum.m === 'IRI'"}], "mark": {"type": "text", "font": "Liberation Serif", "fontStyle": "italic", "fontSize": 22, "align": "right", "baseline": "alphabetic", "color": "#111111"}, "encoding": {"text": {"field": "t"}}},
         {"data": {"name": "ann"}, "transform": [{"filter": "datum.m === 'IRI'"}], "mark": {"type": "text", "font": "Liberation Serif", "fontStyle": "italic", "fontSize": 15, "align": "left", "baseline": "alphabetic", "dy": 5, "color": "#111111"}, "encoding": {"text": {"field": "u"}}}
       ]}
    ]
  },
  {
    "width": 518, "height": 148,
    "encoding": {"x": {"field": "p", "type": "quantitative", "scale": {"domain": [0, 40], "nice": false, "zero": false},
      "axis": {"values": [0,5,10,15,20,25,30,35,40], "grid": true, "domain": true, "domainColor": "black", "domainWidth": 2.5, "labelExpr": "datum.value <= 20 ? '' + datum.value : '' + (40 - datum.value)", "labelFontSize": 17, "labelPadding": 19, "title": "KP", "titleFont": "Liberation Serif", "titleFontStyle": "italic", "titleFontWeight": "normal", "titleFontSize": 20, "titleColor": "#222222", "titlePadding": 3}}},
    "layer": [
      {"data": {"name": "band"}, "mark": {"type": "rect", "color": "#e8c4ce", "opacity": 0.43}, "encoding": {"x2": {"field": "p2"}}},
      {"encoding": {"y": {"field": "v", "type": "quantitative", "scale": {"domain": [20, 64.52], "nice": false, "zero": false},
          "axis": {"values": [20,30,40,50,60], "grid": true, "domain": false, "labelPadding": 7, "title": ["走行速度", "Vv(km/h)"], "titleX": -79, "titleY": 54, "titleBaseline": "top", "titleAngle": 270}}},
       "layer": [
         {"data": {"name": "VV"}, "mark": {"type": "line", "strokeDash": [2, 2], "color": "#222222", "strokeWidth": 1.3}, "encoding": {"detail": [{"field": "c"}, {"field": "s"}]}},
         {"data": {"name": "VV"}, "mark": {"type": "point", "filled": true, "strokeWidth": 1.2, "size": 120, "opacity": 1},
          "encoding": {"shape": {"field": "c", "type": "nominal", "scale": {"domain": ["f", "s"], "range": ["circle", "M-1.2,0.9L1.2,0.9L0,-1.15Z"]}, "legend": {"title": null, "orient": "none", "legendX": 81, "legendY": -38, "direction": "horizontal", "labelExpr": "datum.value === 'f' ? '好天日(2014/2/28)' : '雪害日(2014/2/21)'", "strokeColor": "#555555", "padding": 6, "symbolOffset": 8, "labelFont": "Noto Sans CJK JP", "labelFontSize": 18, "labelColor": "#222222", "symbolSize": 120, "symbolStrokeWidth": 1.3, "columnPadding": 24, "labelOffset": 20}},
                       "fill": {"field": "c", "type": "nominal", "scale": {"domain": ["f", "s"], "range": ["#ffffff", "#7f7f7f"]}, "legend": {"title": null, "orient": "none", "legendX": 81, "legendY": -38, "direction": "horizontal", "labelExpr": "datum.value === 'f' ? '好天日(2014/2/28)' : '雪害日(2014/2/21)'", "strokeColor": "#555555", "padding": 6, "symbolOffset": 8, "labelFont": "Noto Sans CJK JP", "labelFontSize": 18, "labelColor": "#222222", "symbolSize": 120, "symbolStrokeWidth": 1.3, "columnPadding": 24, "labelOffset": 20}},
                       "stroke": {"field": "c", "type": "nominal", "scale": {"domain": ["f", "s"], "range": ["#000000", "#000001"]}, "legend": {"title": null, "orient": "none", "legendX": 81, "legendY": -38, "direction": "horizontal", "labelExpr": "datum.value === 'f' ? '好天日(2014/2/28)' : '雪害日(2014/2/21)'", "strokeColor": "#555555", "padding": 6, "symbolOffset": 8, "labelFont": "Noto Sans CJK JP", "labelFontSize": 18, "labelColor": "#222222", "symbolSize": 120, "symbolStrokeWidth": 1.3, "columnPadding": 24, "labelOffset": 20}}}},
         {"data": {"name": "spine"}, "transform": [{"filter": "datum.m === 'VV'"}], "mark": {"type": "rule", "color": "black", "strokeWidth": 2.2}, "encoding": {"x2": {"field": "p2"}, "y2": {"field": "v2"}}},
         {"data": {"name": "arr"}, "transform": [{"filter": "datum.m === 'VV'"}], "mark": {"type": "rule", "color": "#333333", "strokeWidth": 1}, "encoding": {"x2": {"field": "p2"}, "y2": {"field": "v2"}}},
         {"data": {"name": "ann"}, "transform": [{"filter": "datum.m === 'VV'"}], "mark": {"type": "text", "font": "Liberation Serif", "fontStyle": "italic", "fontSize": 22, "align": "right", "baseline": "alphabetic", "color": "#111111"}, "encoding": {"text": {"field": "t"}}},
         {"data": {"name": "ann"}, "transform": [{"filter": "datum.m === 'VV'"}], "mark": {"type": "text", "font": "Liberation Serif", "fontStyle": "italic", "fontSize": 15, "align": "left", "baseline": "alphabetic", "dy": 5, "color": "#111111"}, "encoding": {"text": {"field": "u"}}}
       ]}
    ]
  }
]
}
